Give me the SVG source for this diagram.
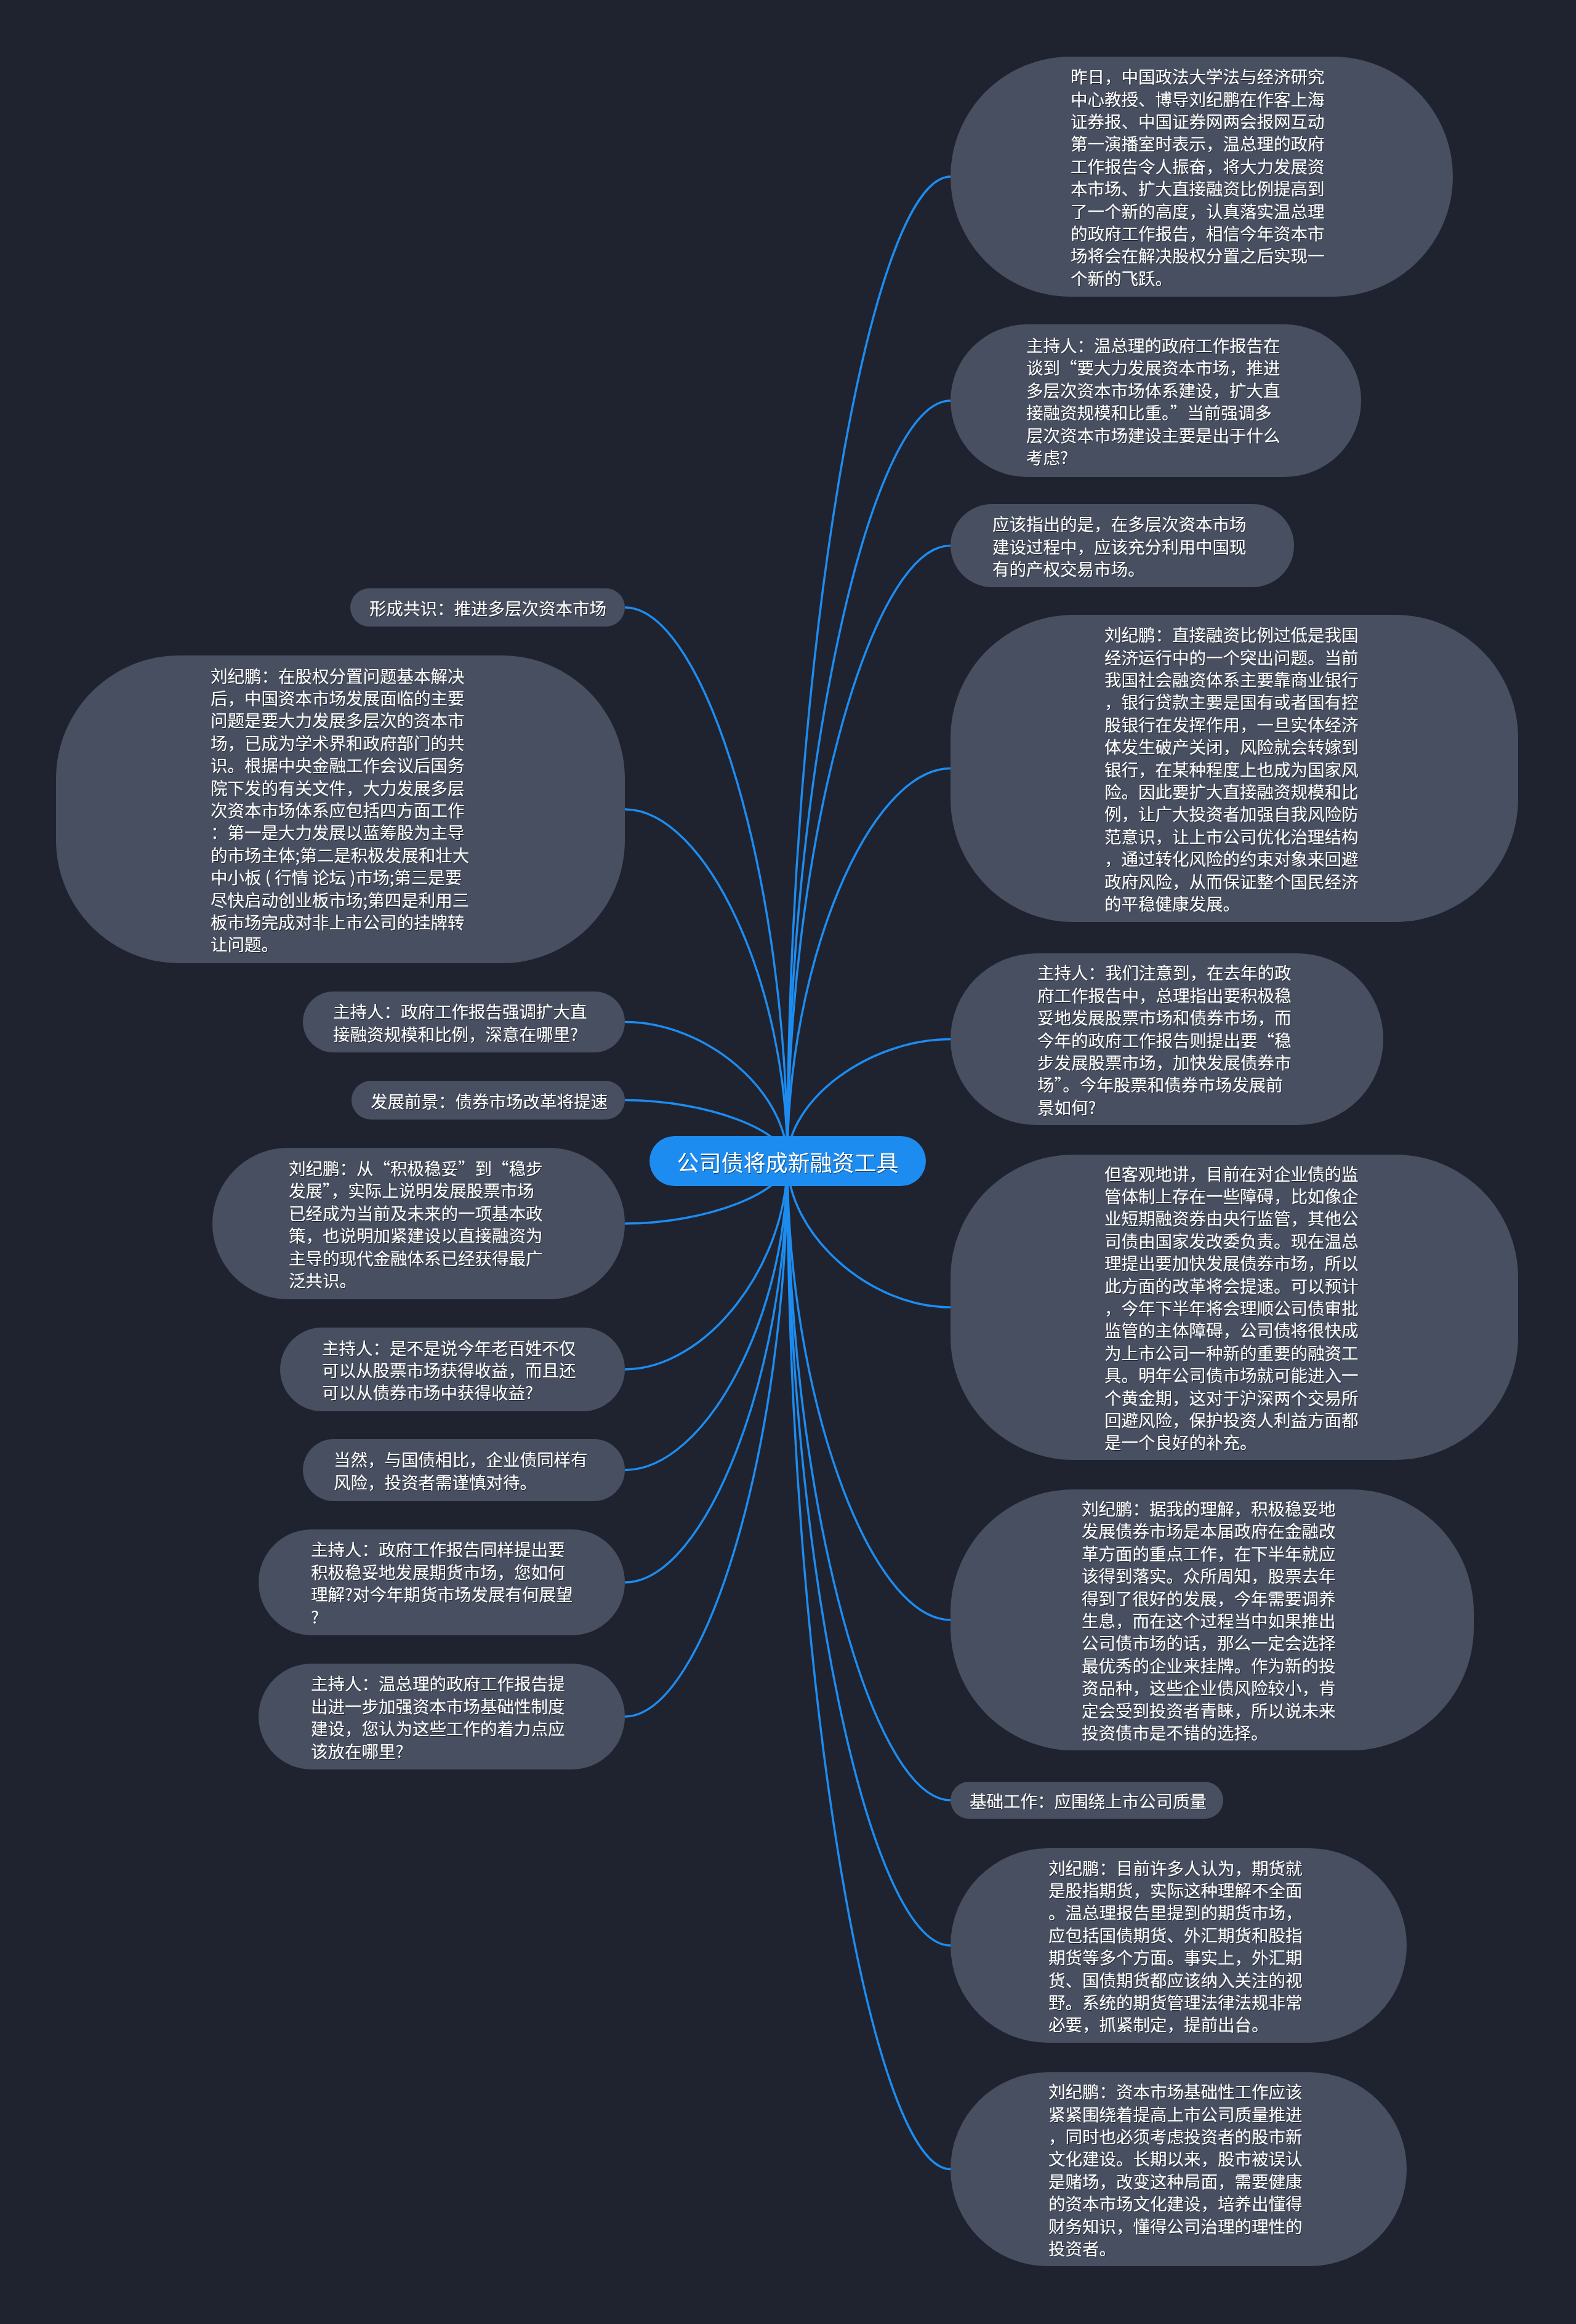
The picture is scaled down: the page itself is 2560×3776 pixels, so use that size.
<svg xmlns="http://www.w3.org/2000/svg" width="2560" height="3776" viewBox="0 0 2560 3776">
<style>
.bg{fill:#1f2330}
.node rect{fill:#484f60}
.t{fill:#ffffff;font-family:"Noto Sans CJK SC","Noto Sans",sans-serif;font-size:27.5px;dominant-baseline:central;filter:url(#ts)}
.link{fill:none;stroke:#1d8cf0;stroke-width:3.5}
.root rect{fill:#1d8cf0}
.rt{fill:#ffffff;font-family:"Noto Sans CJK SC","Noto Sans",sans-serif;font-size:36px;dominant-baseline:central;text-anchor:middle;filter:url(#ts)}
</style>
<defs>
<filter id="ts" x="-5%" y="-20%" width="110%" height="140%">
<feDropShadow dx="1" dy="1" stdDeviation="0.6" flood-color="#000000" flood-opacity="0.55"/>
</filter>
</defs>
<rect class="bg" x="0" y="0" width="2560" height="3776"/>
<g id="connectors">
<path class="link" d="M1279 1886 C1279 1086.5 1411.5 287 1544 287"/>
<path class="link" d="M1279 1886 C1279 1268.5 1411.5 651 1544 651"/>
<path class="link" d="M1279 1886 C1279 1386.25 1411.5 886.5 1544 886.5"/>
<path class="link" d="M1279 1886 C1279 1567.25 1411.5 1248.5 1544 1248.5"/>
<path class="link" d="M1279 1886 C1279 1787.25 1411.5 1688.5 1544 1688.5"/>
<path class="link" d="M1279 1886 C1279 2005 1411.5 2124 1544 2124"/>
<path class="link" d="M1279 1886 C1279 2259 1411.5 2632 1544 2632"/>
<path class="link" d="M1279 1886 C1279 2405.5 1411.5 2925 1544 2925"/>
<path class="link" d="M1279 1886 C1279 2523.5 1411.5 3161 1544 3161"/>
<path class="link" d="M1279 1886 C1279 2705.25 1411.5 3524.5 1544 3524.5"/>
<path class="link" d="M1279 1886 C1279 1436.5 1147 987 1015 987"/>
<path class="link" d="M1279 1886 C1279 1600.5 1147 1315 1015 1315"/>
<path class="link" d="M1279 1886 C1279 1773.25 1147 1660.5 1015 1660.5"/>
<path class="link" d="M1279 1886 C1279 1836.75 1147 1787.5 1015 1787.5"/>
<path class="link" d="M1279 1886 C1279 1937 1147 1988 1015 1988"/>
<path class="link" d="M1279 1886 C1279 2055.5 1147 2225 1015 2225"/>
<path class="link" d="M1279 1886 C1279 2137.25 1147 2388.5 1015 2388.5"/>
<path class="link" d="M1279 1886 C1279 2228.5 1147 2571 1015 2571"/>
<path class="link" d="M1279 1886 C1279 2337.5 1147 2789 1015 2789"/>
</g>
<g id="root" class="root">
<rect x="1055" y="1846" width="449" height="81" rx="40.5"/>
<text class="rt" x="1279.5" y="1887">公司债将成新融资工具</text>
</g>
<g id="r1" class="node">
<rect x="1544" y="92" width="816" height="390" rx="195"/>
<text class="t"><tspan x="1739" y="123.2">昨日，中国政法大学法与经济研究</tspan><tspan x="1739" y="159.6">中心教授、博导刘纪鹏在作客上海</tspan><tspan x="1739" y="196">证券报、中国证券网两会报网互动</tspan><tspan x="1739" y="232.4">第一演播室时表示，温总理的政府</tspan><tspan x="1739" y="268.8">工作报告令人振奋，将大力发展资</tspan><tspan x="1739" y="305.2">本市场、扩大直接融资比例提高到</tspan><tspan x="1739" y="341.6">了一个新的高度，认真落实温总理</tspan><tspan x="1739" y="378">的政府工作报告，相信今年资本市</tspan><tspan x="1739" y="414.4">场将会在解决股权分置之后实现一</tspan><tspan x="1739" y="450.8">个新的飞跃。</tspan></text>
</g>
<g id="r2" class="node">
<rect x="1544" y="527" width="667" height="248" rx="124"/>
<text class="t"><tspan x="1667" y="560">主持人：温总理的政府工作报告在</tspan><tspan x="1667" y="596.4">谈到“要大力发展资本市场，推进</tspan><tspan x="1667" y="632.8">多层次资本市场体系建设，扩大直</tspan><tspan x="1667" y="669.2">接融资规模和比重。”当前强调多</tspan><tspan x="1667" y="705.6">层次资本市场建设主要是出于什么</tspan><tspan x="1667" y="742">考虑?</tspan></text>
</g>
<g id="r3" class="node">
<rect x="1544" y="819" width="558" height="135" rx="67.5"/>
<text class="t"><tspan x="1612" y="850.1">应该指出的是，在多层次资本市场</tspan><tspan x="1612" y="886.5">建设过程中，应该充分利用中国现</tspan><tspan x="1612" y="922.9">有的产权交易市场。</tspan></text>
</g>
<g id="r4" class="node">
<rect x="1544" y="999" width="922" height="499" rx="200"/>
<text class="t"><tspan x="1794" y="1030.1">刘纪鹏：直接融资比例过低是我国</tspan><tspan x="1794" y="1066.5">经济运行中的一个突出问题。当前</tspan><tspan x="1794" y="1102.9">我国社会融资体系主要靠商业银行</tspan><tspan x="1794" y="1139.3">，银行贷款主要是国有或者国有控</tspan><tspan x="1794" y="1175.7">股银行在发挥作用，一旦实体经济</tspan><tspan x="1794" y="1212.1">体发生破产关闭，风险就会转嫁到</tspan><tspan x="1794" y="1248.5">银行，在某种程度上也成为国家风</tspan><tspan x="1794" y="1284.9">险。因此要扩大直接融资规模和比</tspan><tspan x="1794" y="1321.3">例，让广大投资者加强自我风险防</tspan><tspan x="1794" y="1357.7">范意识，让上市公司优化治理结构</tspan><tspan x="1794" y="1394.1">，通过转化风险的约束对象来回避</tspan><tspan x="1794" y="1430.5">政府风险，从而保证整个国民经济</tspan><tspan x="1794" y="1466.9">的平稳健康发展。</tspan></text>
</g>
<g id="r5" class="node">
<rect x="1544" y="1549" width="703" height="279" rx="139.5"/>
<text class="t"><tspan x="1685" y="1579.3">主持人：我们注意到，在去年的政</tspan><tspan x="1685" y="1615.7">府工作报告中，总理指出要积极稳</tspan><tspan x="1685" y="1652.1">妥地发展股票市场和债券市场，而</tspan><tspan x="1685" y="1688.5">今年的政府工作报告则提出要“稳</tspan><tspan x="1685" y="1724.9">步发展股票市场，加快发展债券市</tspan><tspan x="1685" y="1761.3">场”。今年股票和债券市场发展前</tspan><tspan x="1685" y="1797.7">景如何?</tspan></text>
</g>
<g id="r6" class="node">
<rect x="1544" y="1876" width="922" height="496" rx="200"/>
<text class="t"><tspan x="1794" y="1905.6">但客观地讲，目前在对企业债的监</tspan><tspan x="1794" y="1942">管体制上存在一些障碍，比如像企</tspan><tspan x="1794" y="1978.4">业短期融资券由央行监管，其他公</tspan><tspan x="1794" y="2014.8">司债由国家发改委负责。现在温总</tspan><tspan x="1794" y="2051.2">理提出要加快发展债券市场，所以</tspan><tspan x="1794" y="2087.6">此方面的改革将会提速。可以预计</tspan><tspan x="1794" y="2124">，今年下半年将会理顺公司债审批</tspan><tspan x="1794" y="2160.4">监管的主体障碍，公司债将很快成</tspan><tspan x="1794" y="2196.8">为上市公司一种新的重要的融资工</tspan><tspan x="1794" y="2233.2">具。明年公司债市场就可能进入一</tspan><tspan x="1794" y="2269.6">个黄金期，这对于沪深两个交易所</tspan><tspan x="1794" y="2306">回避风险，保护投资人利益方面都</tspan><tspan x="1794" y="2342.4">是一个良好的补充。</tspan></text>
</g>
<g id="r7" class="node">
<rect x="1544" y="2420" width="850" height="424" rx="200"/>
<text class="t"><tspan x="1757" y="2450">刘纪鹏：据我的理解，积极稳妥地</tspan><tspan x="1757" y="2486.4">发展债券市场是本届政府在金融改</tspan><tspan x="1757" y="2522.8">革方面的重点工作，在下半年就应</tspan><tspan x="1757" y="2559.2">该得到落实。众所周知，股票去年</tspan><tspan x="1757" y="2595.6">得到了很好的发展，今年需要调养</tspan><tspan x="1757" y="2632">生息，而在这个过程当中如果推出</tspan><tspan x="1757" y="2668.4">公司债市场的话，那么一定会选择</tspan><tspan x="1757" y="2704.8">最优秀的企业来挂牌。作为新的投</tspan><tspan x="1757" y="2741.2">资品种，这些企业债风险较小，肯</tspan><tspan x="1757" y="2777.6">定会受到投资者青睐，所以说未来</tspan><tspan x="1757" y="2814">投资债市是不错的选择。</tspan></text>
</g>
<g id="r8" class="node">
<rect x="1544" y="2895" width="443" height="60" rx="30"/>
<text class="t" x="1575" y="2925">基础工作：应围绕上市公司质量</text>
</g>
<g id="r9" class="node">
<rect x="1544" y="3003" width="741" height="316" rx="158"/>
<text class="t"><tspan x="1703" y="3033.6">刘纪鹏：目前许多人认为，期货就</tspan><tspan x="1703" y="3070">是股指期货，实际这种理解不全面</tspan><tspan x="1703" y="3106.4">。温总理报告里提到的期货市场，</tspan><tspan x="1703" y="3142.8">应包括国债期货、外汇期货和股指</tspan><tspan x="1703" y="3179.2">期货等多个方面。事实上，外汇期</tspan><tspan x="1703" y="3215.6">货、国债期货都应该纳入关注的视</tspan><tspan x="1703" y="3252">野。系统的期货管理法律法规非常</tspan><tspan x="1703" y="3288.4">必要，抓紧制定，提前出台。</tspan></text>
</g>
<g id="r10" class="node">
<rect x="1544" y="3367" width="741" height="315" rx="157.5"/>
<text class="t"><tspan x="1703" y="3397.1">刘纪鹏：资本市场基础性工作应该</tspan><tspan x="1703" y="3433.5">紧紧围绕着提高上市公司质量推进</tspan><tspan x="1703" y="3469.9">，同时也必须考虑投资者的股市新</tspan><tspan x="1703" y="3506.3">文化建设。长期以来，股市被误认</tspan><tspan x="1703" y="3542.7">是赌场，改变这种局面，需要健康</tspan><tspan x="1703" y="3579.1">的资本市场文化建设，培养出懂得</tspan><tspan x="1703" y="3615.5">财务知识，懂得公司治理的理性的</tspan><tspan x="1703" y="3651.9">投资者。</tspan></text>
</g>
<g id="l1" class="node">
<rect x="569" y="956" width="446" height="62" rx="31"/>
<text class="t" x="600" y="987">形成共识：推进多层次资本市场</text>
</g>
<g id="l2" class="node">
<rect x="91" y="1065" width="924" height="500" rx="200"/>
<text class="t"><tspan x="342" y="1096.6">刘纪鹏：在股权分置问题基本解决</tspan><tspan x="342" y="1133">后，中国资本市场发展面临的主要</tspan><tspan x="342" y="1169.4">问题是要大力发展多层次的资本市</tspan><tspan x="342" y="1205.8">场，已成为学术界和政府部门的共</tspan><tspan x="342" y="1242.2">识。根据中央金融工作会议后国务</tspan><tspan x="342" y="1278.6">院下发的有关文件，大力发展多层</tspan><tspan x="342" y="1315">次资本市场体系应包括四方面工作</tspan><tspan x="342" y="1351.4">：第一是大力发展以蓝筹股为主导</tspan><tspan x="342" y="1387.8">的市场主体;第二是积极发展和壮大</tspan><tspan x="342" y="1424.2">中小板 ( 行情 论坛 )市场;第三是要</tspan><tspan x="342" y="1460.6">尽快启动创业板市场;第四是利用三</tspan><tspan x="342" y="1497">板市场完成对非上市公司的挂牌转</tspan><tspan x="342" y="1533.4">让问题。</tspan></text>
</g>
<g id="l3" class="node">
<rect x="492" y="1611" width="523" height="99" rx="49.5"/>
<text class="t"><tspan x="541" y="1642.3">主持人：政府工作报告强调扩大直</tspan><tspan x="541" y="1678.7">接融资规模和比例，深意在哪里?</tspan></text>
</g>
<g id="l4" class="node">
<rect x="571" y="1756" width="444" height="63" rx="31.5"/>
<text class="t" x="602" y="1787.5">发展前景：债券市场改革将提速</text>
</g>
<g id="l5" class="node">
<rect x="345" y="1865" width="670" height="246" rx="123"/>
<text class="t"><tspan x="469" y="1897">刘纪鹏：从“积极稳妥”到“稳步</tspan><tspan x="469" y="1933.4">发展”，实际上说明发展股票市场</tspan><tspan x="469" y="1969.8">已经成为当前及未来的一项基本政</tspan><tspan x="469" y="2006.2">策，也说明加紧建设以直接融资为</tspan><tspan x="469" y="2042.6">主导的现代金融体系已经获得最广</tspan><tspan x="469" y="2079">泛共识。</tspan></text>
</g>
<g id="l6" class="node">
<rect x="455" y="2157" width="560" height="136" rx="68"/>
<text class="t"><tspan x="523" y="2188.6">主持人：是不是说今年老百姓不仅</tspan><tspan x="523" y="2225">可以从股票市场获得收益，而且还</tspan><tspan x="523" y="2261.4">可以从债券市场中获得收益?</tspan></text>
</g>
<g id="l7" class="node">
<rect x="492" y="2338" width="523" height="101" rx="50.5"/>
<text class="t"><tspan x="542" y="2370.3">当然，与国债相比，企业债同样有</tspan><tspan x="542" y="2406.7">风险，投资者需谨慎对待。</tspan></text>
</g>
<g id="l8" class="node">
<rect x="420" y="2485" width="595" height="172" rx="86"/>
<text class="t"><tspan x="505" y="2516.4">主持人：政府工作报告同样提出要</tspan><tspan x="505" y="2552.8">积极稳妥地发展期货市场，您如何</tspan><tspan x="505" y="2589.2">理解?对今年期货市场发展有何展望</tspan><tspan x="505" y="2625.6">?</tspan></text>
</g>
<g id="l9" class="node">
<rect x="420" y="2703" width="595" height="172" rx="86"/>
<text class="t"><tspan x="505" y="2734.4">主持人：温总理的政府工作报告提</tspan><tspan x="505" y="2770.8">出进一步加强资本市场基础性制度</tspan><tspan x="505" y="2807.2">建设，您认为这些工作的着力点应</tspan><tspan x="505" y="2843.6">该放在哪里?</tspan></text>
</g>
</svg>
